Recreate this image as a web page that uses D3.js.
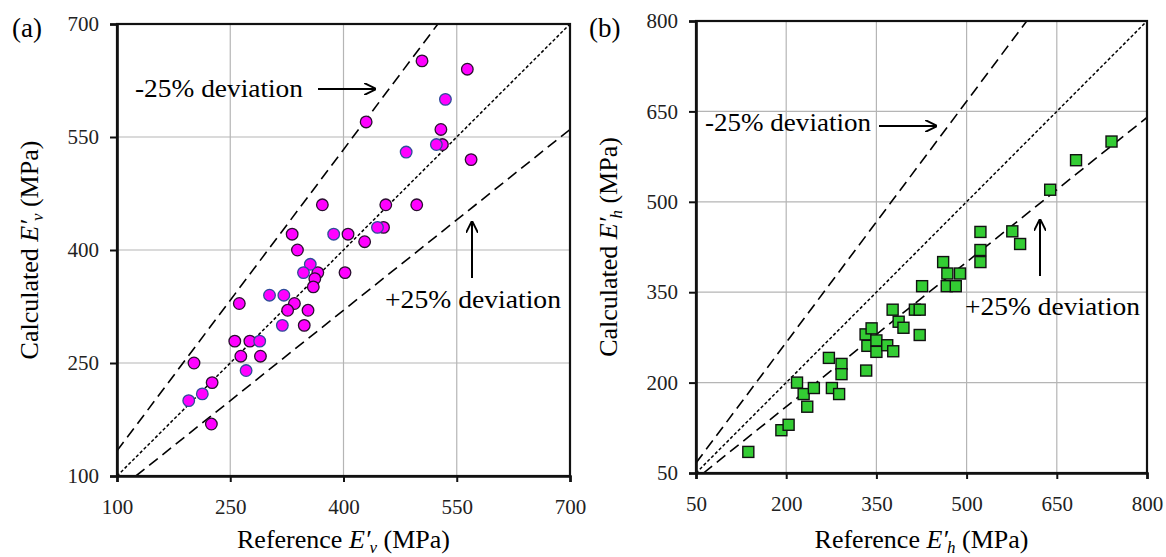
<!DOCTYPE html>
<html>
<head>
<meta charset="utf-8">
<script src="https://cdn.jsdelivr.net/npm/d3@7"></script>
<style>
  body { margin: 0; background: #fff; }
</style>
</head>
<body>
<div class="chart"></div>
<script>
// panel (a) : vertical modulus, [reference, calculated]
var vPoints = [
  [504, 651], [564, 640], [430, 570], [529, 560], [531, 540], [569, 520],
  [372, 460], [456, 460], [497, 460], [453, 430], [332, 421], [406, 421],
  [428, 411], [339, 400], [366, 370], [362, 362], [360, 351], [402, 370],
  [335, 329], [326, 320], [353, 320], [348, 300], [262, 329], [256, 279],
  [276, 279], [264, 259], [290, 259], [202, 250], [226, 224], [225, 169]
];
// same panel, points drawn with a blue outline
var vPointsB = [
  [535, 600], [523, 540], [483, 530], [445, 430], [387, 421], [356, 381],
  [347, 370], [302, 340], [321, 340], [319, 300], [289, 279], [271, 240],
  [213, 209], [195, 200]
];
// panel (b) : horizontal modulus
var hPoints = [
  [137, 85], [192, 121], [204, 130], [218, 200], [229, 181], [246, 191],
  [235, 160], [276, 191], [288, 181], [271, 241], [292, 231], [292, 214],
  [333, 220], [332, 280], [342, 290], [335, 261], [350, 270], [350, 251],
  [368, 262], [378, 252], [377, 321], [387, 301], [395, 291], [414, 321],
  [422, 321], [422, 279], [426, 360], [461, 400], [467, 360], [468, 381],
  [482, 360], [489, 381], [523, 450], [523, 420], [523, 400], [576, 451],
  [589, 430], [639, 520], [682, 569], [741, 600]
];
var vTicks = [100, 250, 400, 550, 700];
var hTicks = [50, 200, 350, 500, 650, 800];
var lowerFactor = 1 / 0.75;   // -25% deviation line
var upperFactor = 1 / 1.25;   // +25% deviation line

var serif = "'Liberation Serif', 'Times New Roman', serif";

var svg = d3.select(".chart").append("svg")
  .attr("width", 1166)
  .attr("height", 557)
  .attr("font-family", serif);

svg.append("defs").append("marker")
  .attr("id", "arrow")
  .attr("viewBox", "0 0 10 10")
  .attr("refX", 9).attr("refY", 5)
  .attr("markerWidth", 6).attr("markerHeight", 6)
  .attr("markerUnits", "strokeWidth")
  .attr("orient", "auto")
  .append("path")
    .attr("d", "M0,0 L10,5 L0,10")
    .attr("fill", "none")
    .attr("stroke", "#000")
    .attr("stroke-width", 1.6);

// axis title like "Reference E'v (MPa)"
var addTitle = function(t, word, sub) {
  t.attr("font-family", serif).attr("font-size", 26);
  t.append("tspan").text(word + " ");
  t.append("tspan").attr("font-style", "italic").text("E′");
  t.append("tspan").attr("dy", 5).attr("dx", -1).attr("font-size", 17)
    .attr("font-style", "italic").text(sub);
  t.append("tspan").attr("dy", -5).text(" (MPa)");
};

// draws one panel
var drawPanel = function(p) {
  var x = d3.scaleLinear().domain(p.domain).range([p.left, p.right]);
  var y = d3.scaleLinear().domain(p.domain).range([p.bottom, p.top]);
  var g = svg.append("g");
  var lo = p.domain[0], hi = p.domain[1];

  g.append("clipPath").attr("id", "clip" + p.name)
    .append("rect")
      .attr("x", p.left).attr("y", p.top)
      .attr("width", p.right - p.left).attr("height", p.bottom - p.top);

  // grid
  g.selectAll(".gx").data(p.ticks).enter().append("line")
    .attr("x1", function(d) { return x(d); }).attr("x2", function(d) { return x(d); })
    .attr("y1", p.top).attr("y2", p.bottom)
    .attr("stroke", "#b5b5b5").attr("stroke-width", 1.2);
  g.selectAll(".gy").data(p.ticks).enter().append("line")
    .attr("y1", function(d) { return y(d); }).attr("y2", function(d) { return y(d); })
    .attr("x1", p.left).attr("x2", p.right)
    .attr("stroke", "#b5b5b5").attr("stroke-width", 1.2);

  // reference lines
  var lines = g.append("g").attr("clip-path", "url(#clip" + p.name + ")");
  lines.append("line")
    .attr("x1", x(lo)).attr("y1", y(lo * lowerFactor))
    .attr("x2", x(hi / lowerFactor)).attr("y2", y(hi))
    .attr("stroke", "#000").attr("stroke-width", 1.6).attr("stroke-dasharray", "11,6");
  lines.append("line")
    .attr("x1", x(lo)).attr("y1", y(lo))
    .attr("x2", x(hi)).attr("y2", y(hi))
    .attr("stroke", "#000").attr("stroke-width", 1.5).attr("stroke-dasharray", "3.2,2.2");
  lines.append("line")
    .attr("x1", x(lo / upperFactor)).attr("y1", y(lo))
    .attr("x2", x(hi)).attr("y2", y(hi * upperFactor))
    .attr("stroke", "#000").attr("stroke-width", 1.6).attr("stroke-dasharray", "11,6");

  // frame
  g.append("rect")
    .attr("x", p.left).attr("y", p.top)
    .attr("width", p.right - p.left).attr("height", p.bottom - p.top)
    .attr("fill", "none").attr("stroke", "#111").attr("stroke-width", 2.2);

  // axes
  var xAxis = g.append("g").attr("transform", "translate(0," + p.bottom + ")")
    .call(d3.axisBottom(x).tickValues(p.ticks).tickSize(6).tickPadding(14).tickFormat(d3.format("d")));
  var yAxis = g.append("g").attr("transform", "translate(" + p.left + ",0)")
    .call(d3.axisLeft(y).tickValues(p.ticks).tickSize(7).tickPadding(11).tickFormat(d3.format("d")));
  [xAxis, yAxis].forEach(function(a) {
    a.attr("font-family", serif).attr("font-size", 21);
    a.select(".domain").attr("stroke", "#111").attr("stroke-width", 2.6);
    a.selectAll(".tick line").attr("stroke", "#111").attr("stroke-width", 2);
    a.selectAll(".tick text").attr("fill", "#222");
  });
  xAxis.selectAll(".tick text").attr("dy", "0.85em");

  // points
  if (p.shape === "circle") {
    p.series.forEach(function(s) {
      g.selectAll(".pt" + s.name).data(s.data).enter().append("circle")
        .attr("cx", function(d) { return x(d[0]); })
        .attr("cy", function(d) { return y(d[1]); })
        .attr("r", 5.8)
        .attr("fill", "#ff00ff")
        .attr("stroke", s.stroke).attr("stroke-width", 1.3);
    });
  } else {
    p.series.forEach(function(s) {
      g.selectAll(".pt" + s.name).data(s.data).enter().append("rect")
        .attr("x", function(d) { return x(d[0]) - 5.5; })
        .attr("y", function(d) { return y(d[1]) - 5.5; })
        .attr("width", 11).attr("height", 11)
        .attr("fill", "#33cc33")
        .attr("stroke", s.stroke).attr("stroke-width", 1.4);
    });
  }

  // titles
  addTitle(g.append("text")
    .attr("x", (p.left + p.right) / 2).attr("y", 548)
    .attr("text-anchor", "middle"), "Reference", p.sub);

  addTitle(g.append("text")
    .attr("transform", "translate(" + p.ylabX + "," + ((p.top + p.bottom) / 2) + ") rotate(-90)")
    .attr("text-anchor", "middle"), "Calculated", p.sub);

  g.append("text").attr("x", p.labelX).attr("y", 37)
    .attr("font-family", serif).attr("font-size", 27).text(p.label);

  // annotations
  p.notes.forEach(function(n) {
    g.append("text").attr("x", n.x).attr("y", n.y)
      .attr("font-family", serif).attr("font-size", 26)
      .attr("textLength", n.w).attr("lengthAdjust", "spacingAndGlyphs")
      .text(n.text);
  });
  p.arrows.forEach(function(a) {
    g.append("line")
      .attr("x1", a[0]).attr("y1", a[1]).attr("x2", a[2]).attr("y2", a[3])
      .attr("stroke", "#000").attr("stroke-width", 2)
      .attr("marker-end", "url(#arrow)");
  });
};

drawPanel({
  name: "a", label: "(a)", labelX: 12, sub: "v",
  domain: [100, 700], ticks: vTicks,
  left: 117, right: 570, top: 24, bottom: 476, ylabX: 38,
  shape: "circle",
  series: [{name: "a1", data: vPoints, stroke: "#2a1030"},
           {name: "a2", data: vPointsB, stroke: "#2f4d9a"}],
  notes: [{x: 135, y: 97, w: 168, text: "-25% deviation"},
          {x: 385, y: 308, w: 176, text: "+25% deviation"}],
  arrows: [[318, 89, 375, 89], [472, 278, 472, 222]]
});

drawPanel({
  name: "b", label: "(b)", labelX: 589, sub: "h",
  domain: [50, 800], ticks: hTicks,
  left: 696, right: 1147, top: 21, bottom: 473, ylabX: 617,
  shape: "square",
  series: [{name: "b1", data: hPoints, stroke: "#111"}],
  notes: [{x: 705, y: 131, w: 166, text: "-25% deviation"},
          {x: 965, y: 315, w: 175, text: "+25% deviation"}],
  arrows: [[879, 126, 936, 126], [1040, 276, 1040, 220]]
});
</script>
</body>
</html>
